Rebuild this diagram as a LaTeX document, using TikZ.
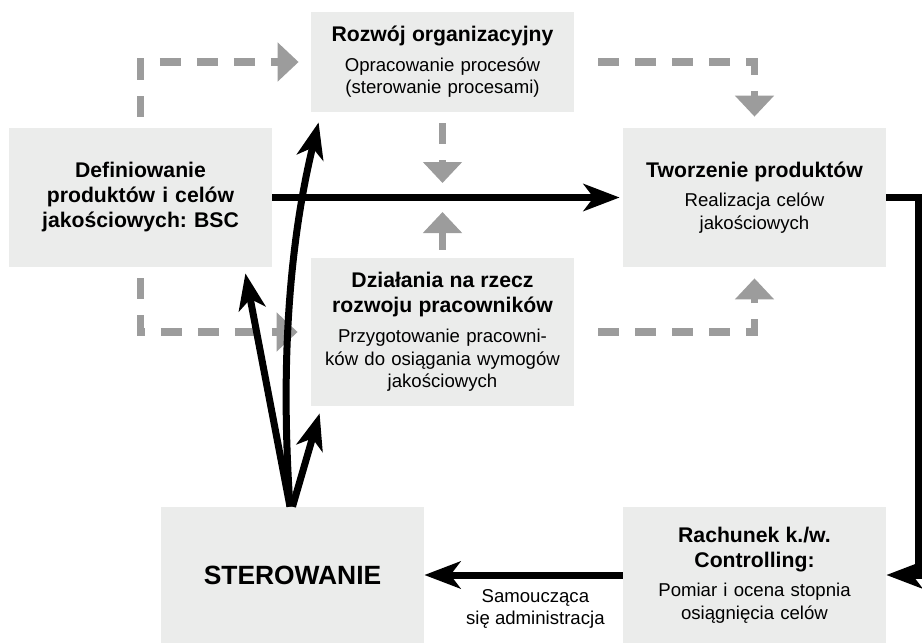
\documentclass[tikz,border=0pt]{standalone}
\usepackage{fontspec}
\setmainfont{Liberation Sans}
\usetikzlibrary{arrows.meta}
\definecolor{boxgray}{HTML}{EBECEB}
\definecolor{flowgray}{HTML}{9C9C9C}
\newcommand{\boxhead}[1]{{\bfseries\fontsize{10.6}{12.5}\selectfont #1\par}\vspace{3.5pt}}
\frenchspacing

\begin{document}
\begin{tikzpicture}[x=0.5pt, y=-0.5pt,
    box/.style={fill=boxgray, text width=125pt, inner xsep=3.25pt, inner ysep=0pt,
        minimum height=69.5pt, align=center, font=\fontsize{9.3}{11.3}\selectfont},
    headbox/.style={box, font=\bfseries\fontsize{10.6}{12.5}\selectfont},
    flow/.style={draw=black, line width=3.5pt, -{Stealth[length=18pt, width=13.5pt, inset=5pt]}},
    dashflow/.style={draw=flowgray, line width=3.75pt, dash pattern=on 10.5pt off 8pt,
        -{Triangle[length=10.5pt, width=19pt]}}]
    \useasboundingbox (0,0) rectangle (922,643);

    % Boxes
    \node[headbox] (def) at (140.5,197.5) {Definiowanie\\produktów i celów\\jakościowych: BSC};
    \node[box, minimum height=50pt] (org) at (442.5,62) {\boxhead{Rozwój organizacyjny}Opracowanie procesów\\(sterowanie procesami)};
    \node[box, minimum height=74pt] (dev) at (442.5,332) {\boxhead{Działania na rzecz\\rozwoju pracowników}Przygotowanie pracowni-\\ków do osiągania wymogów\\jakościowych};
    \node[box] (prod) at (754.5,197.5) {\boxhead{Tworzenie produktów}Realizacja celów\\jakościowych};
    \node[headbox, minimum height=68pt, font=\bfseries\fontsize{13.2}{15}\selectfont] (ster) at (292.5,575) {STEROWANIE};
    \node[box, minimum height=68pt] (contr) at (754.5,575) {\boxhead{Rachunek k./w.\\Controlling:}Pomiar i ocena stopnia\\osiągnięcia celów};

    % Gray dashed flows
    \draw[dashflow, shorten <=5.5pt, shorten >=6pt] (def.north) |- (org.west);
    \draw[dashflow, shorten <=5.5pt, shorten >=6.5pt] (def.south) |- (dev.west);
    \draw[dashflow, shorten <=5.5pt, shorten >=7.25pt] (org.south) -- (org.south |- def.east);
    \draw[dashflow, shorten <=4pt, shorten >=7.25pt] (dev.north) -- (dev.north |- def.east);
    \draw[dashflow, shorten <=12pt, shorten >=5.5pt] (org.east) -| (prod.north);
    \draw[dashflow, shorten <=12pt, shorten >=5.5pt] (dev.east) -| (prod.south);

    % Main loop
    \draw[flow, shorten >=1.5pt] (def.east) -- (prod.west);
    \draw[flow] (prod.east) -- ++(32,0) |- (contr.east);
    \draw[flow] (contr.west) -- (ster.east)
        node[pos=0.44, below=2pt, align=center, font=\fontsize{9.3}{11.3}\selectfont] (selfadmin) {Samoucząca\\się administracja};

    % Steering back to the boxes
    \draw[flow] ([xshift=-1.25pt]ster.north) -- ([xshift=-13.5pt, yshift=-3pt]def.south east);
    \draw[flow] ([xshift=-1.25pt]ster.north) .. controls (280,360) and (290,240) .. ([xshift=4pt, yshift=-5pt]org.south west);
    \draw[flow] (ster.north) -- ([xshift=4.5pt, yshift=-3.5pt]dev.south west);
\end{tikzpicture}
\end{document}
